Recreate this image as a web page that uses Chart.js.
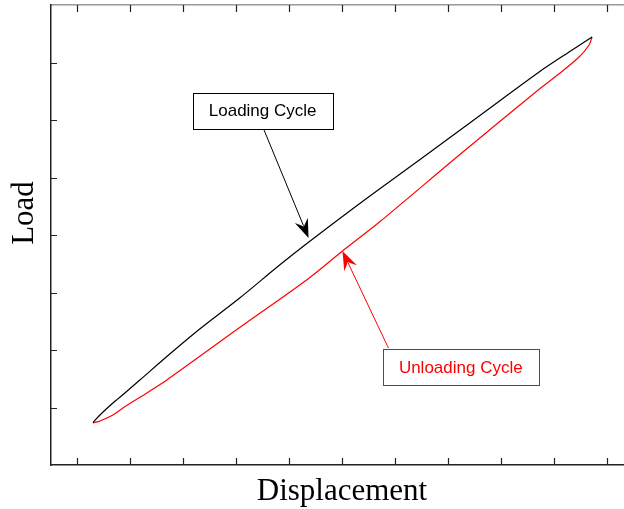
<!DOCTYPE html>
<html>
<head>
<meta charset="utf-8">
<script src="https://cdn.jsdelivr.net/npm/chart.js@4/dist/chart.umd.min.js"></script>
<style>
  html, body { margin: 0; padding: 0; background: #fff; overflow: hidden; }
  #wrap { width: 660px; height: 509px; }
</style>
</head>
<body>
<div id="wrap"><canvas id="myChart" width="660" height="509"></canvas></div>
<script>
// Tick positions (no tick labels are shown on either axis)
const xTickValues = [0, 1, 2, 3, 4, 5, 6, 7, 8, 9, 10];
const yTickValues = [1, 2, 3, 4, 5, 6, 7];

// Loading cycle (black), lower-left to upper-right
const loadingX = [0.292, 0.425, 0.670, 0.896, 1.179, 1.745, 2.311, 3.066, 3.821, 4.349, 5.425, 6.462, 7.594, 8.726, 9.292, 9.726];
const loadingY = [0.739, 0.870, 1.078, 1.252, 1.478, 1.930, 2.365, 2.904, 3.478, 3.861, 4.609, 5.304, 6.070, 6.835, 7.183, 7.443];

// Unloading cycle (red), upper-right back to lower-left
const unloadingX = [9.726, 9.670, 9.481, 9.104, 8.726, 7.217, 5.708, 5.009, 4.330, 3.066, 1.689, 1.311, 0.858, 0.670, 0.425, 0.292];
const unloadingY = [7.443, 7.304, 7.096, 6.805, 6.535, 5.391, 4.226, 3.722, 3.217, 2.390, 1.478, 1.252, 0.991, 0.870, 0.765, 0.730];

// Labels with arrows, in data units
const annotations = [
    { text: "Loading Cycle", color: "#000000", boxX: 3.5, boxY: 6.165, fromX: 3.519, fromY: 5.843, toX: 4.368, toY: 3.948 },
    { text: "Unloading Cycle", color: "#ff0000", boxX: 7.245, boxY: 1.704, fromX: 5.877, fromY: 2.035, toX: 5.009, toY: 3.722 }
];

const toPoints = (xs, ys) => xs.map((x, i) => ({ x: x, y: ys[i] }));

// Inward ticks, axis titles and labelled arrows
const decorations = {
    id: "decorations",
    afterDraw(chart) {
        const ctx = chart.ctx;
        const area = chart.chartArea;
        const xs = chart.scales.x;
        const ys = chart.scales.y;
        ctx.save();

        // ticks pointing into the plot
        ctx.strokeStyle = "#222";
        ctx.lineWidth = 1.2;
        ctx.beginPath();
        xTickValues.forEach(v => {
            const px = Math.round(xs.getPixelForValue(v)) + 0.5;
            ctx.moveTo(px, area.bottom);
            ctx.lineTo(px, area.bottom - 7);
            ctx.moveTo(px, area.top);
            ctx.lineTo(px, area.top + 7);
        });
        yTickValues.forEach(v => {
            const py = Math.round(ys.getPixelForValue(v)) + 0.5;
            ctx.moveTo(area.left, py);
            ctx.lineTo(area.left + 6, py);
        });
        ctx.stroke();

        // axis titles
        ctx.fillStyle = "#000";
        ctx.font = "31px 'Liberation Serif', 'Times New Roman', serif";
        ctx.textAlign = "center";
        ctx.textBaseline = "alphabetic";
        ctx.fillText("Displacement", (area.left + area.right) / 2, 500);
        ctx.save();
        ctx.translate(33, 213);
        ctx.rotate(-Math.PI / 2);
        ctx.fillText("Load", 0, 0);
        ctx.restore();

        // labelled arrows
        annotations.forEach(a => {
            const x1 = xs.getPixelForValue(a.fromX), y1 = ys.getPixelForValue(a.fromY);
            const x2 = xs.getPixelForValue(a.toX), y2 = ys.getPixelForValue(a.toY);
            const ang = Math.atan2(y2 - y1, x2 - x1);
            const headLen = 19, headW = 7;
            const c = Math.cos(ang), s = Math.sin(ang);
            ctx.strokeStyle = a.color;
            ctx.fillStyle = a.color;
            ctx.lineWidth = 1;
            ctx.beginPath();
            ctx.moveTo(x1, y1);
            ctx.lineTo(x2 - c * headLen * 0.7, y2 - s * headLen * 0.7);
            ctx.stroke();
            ctx.beginPath();
            ctx.moveTo(x2, y2);
            ctx.lineTo(x2 - c * headLen - s * headW, y2 - s * headLen + c * headW);
            ctx.lineTo(x2 - c * headLen * 0.65, y2 - s * headLen * 0.65);
            ctx.lineTo(x2 - c * headLen + s * headW, y2 - s * headLen - c * headW);
            ctx.closePath();
            ctx.fill();

            ctx.font = "17px 'Liberation Sans', Arial, sans-serif";
            const cx = xs.getPixelForValue(a.boxX), cy = ys.getPixelForValue(a.boxY);
            const w = ctx.measureText(a.text).width + 32, h = 36;
            ctx.fillStyle = "#fff";
            ctx.fillRect(Math.round(cx - w / 2) + 0.5, Math.round(cy - h / 2) + 0.5, Math.round(w), h);
            ctx.strokeRect(Math.round(cx - w / 2) + 0.5, Math.round(cy - h / 2) + 0.5, Math.round(w), h);
            ctx.fillStyle = a.color;
            ctx.textAlign = "center";
            ctx.textBaseline = "middle";
            ctx.fillText(a.text, cx, cy + 1);
        });
        ctx.restore();
    }
};

const noSize = scale => { if (scale.isHorizontal()) scale.height = 0; else scale.width = 0; };

const ctx = document.getElementById("myChart").getContext("2d");
new Chart(ctx, {
    type: "line",
    data: {
        datasets: [
            {
                label: "Loading Cycle",
                data: toPoints(loadingX, loadingY),
                borderColor: "#000000",
                borderWidth: 1.2,
                pointRadius: 0,
                tension: 0.3,
                fill: false
            },
            {
                label: "Unloading Cycle",
                data: toPoints(unloadingX, unloadingY),
                borderColor: "#ff0000",
                borderWidth: 1.2,
                pointRadius: 0,
                tension: 0.3,
                fill: false
            }
        ]
    },
    options: {
        responsive: false,
        devicePixelRatio: 1,
        animation: false,
        layout: { padding: { left: 51, top: 5, right: 27, bottom: 44 } },
        plugins: { legend: { display: false }, tooltip: { enabled: false } },
        scales: {
            x: {
                type: "linear",
                position: "bottom",
                min: -0.5,
                max: 10.5,
                afterFit: noSize,
                ticks: { display: false },
                grid: { display: false },
                border: { display: true, color: "#222", width: 1.5 }
            },
            x2: {
                type: "linear",
                position: "top",
                min: -0.5,
                max: 10.5,
                afterFit: noSize,
                ticks: { display: false },
                grid: { display: false },
                border: { display: true, color: "#999", width: 1.5 }
            },
            y: {
                type: "linear",
                position: "left",
                min: 0,
                max: 8,
                afterFit: noSize,
                ticks: { display: false },
                grid: { display: false },
                border: { display: true, color: "#222", width: 1.5 }
            }
        }
    },
    plugins: [decorations]
});
</script>
</body>
</html>
